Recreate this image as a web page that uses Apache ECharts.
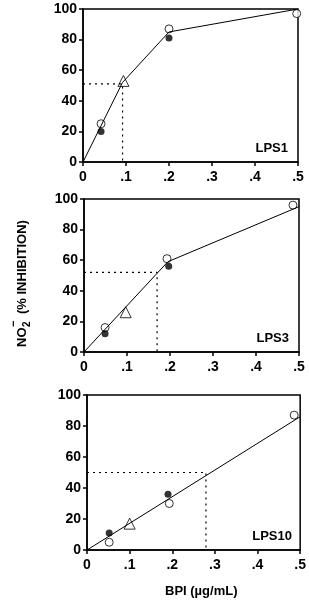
<!DOCTYPE html>
<html><head><meta charset="utf-8">
<script src="https://cdn.jsdelivr.net/npm/echarts@6/dist/echarts.min.js"></script>
<style>html,body{margin:0;padding:0;background:#fff}#c{width:309px;height:602px}</style>
</head><body><div id="c"></div>
<script>
// Panel names
const panels = ['LPS1', 'LPS3', 'LPS10'];
// Fitted lines [x, y]
const fitLPS1 = [[0, 0], [0.092, 52], [0.2, 85], [0.5, 100]];
const fitLPS3 = [[0, 0], [0.195, 59], [0.5, 95]];
const fitLPS10 = [[0, 0], [0.5, 86]];
// Open circles
const openLPS1 = [[0.042, 25], [0.2, 87], [0.497, 97]];
const openLPS3 = [[0.049, 16], [0.193, 61], [0.486, 96]];
const openLPS10 = [[0.052, 5], [0.193, 30], [0.486, 87]];
// Filled circles
const fillLPS1 = [[0.042, 20], [0.2, 81]];
const fillLPS3 = [[0.049, 12], [0.197, 56]];
const fillLPS10 = [[0.052, 11], [0.19, 36]];
// Triangles
const triLPS1 = [[0.094, 53]];
const triLPS3 = [[0.097, 26]];
const triLPS10 = [[0.1, 17]];
// IC50 reference (x, y)
const refLPS1 = [0.092, 51];
const refLPS3 = [0.17, 52];
const refLPS10 = [0.279, 50];
// Axis ticks
const xTicks = [0, 0.1, 0.2, 0.3, 0.4, 0.5];
const yTicks = [0, 20, 40, 60, 80, 100];

const fits = [fitLPS1, fitLPS3, fitLPS10];
const opens = [openLPS1, openLPS3, openLPS10];
const fills = [fillLPS1, fillLPS3, fillLPS10];
const tris = [triLPS1, triLPS3, triLPS10];
const refs = [refLPS1, refLPS3, refLPS10];

const FONT = '"Liberation Sans", Arial, sans-serif';
const grids = [
  {left: 83, top: 9, width: 215, height: 153},
  {left: 84, top: 199, width: 215, height: 153},
  {left: 87, top: 395, width: 215, height: 155}
];

const chart = echarts.init(document.getElementById('c'));
const xAxis = [], yAxis = [], series = [], graphic = [];
grids.forEach((g, i) => {
  g.show = true; g.borderColor = '#000'; g.borderWidth = 1.5; g.backgroundColor = 'transparent';
  xAxis.push({
    type: 'value', gridIndex: i, min: xTicks[0], max: xTicks[xTicks.length - 1],
    interval: xTicks[1] - xTicks[0],
    axisLine: {show: true, onZero: false, lineStyle: {color: '#000', width: 1.5}},
    axisTick: {show: true, length: 4, lineStyle: {color: '#000', width: 1.5}},
    splitLine: {show: false},
    axisLabel: {margin: 8, color: '#000', fontFamily: FONT, fontWeight: 'bold', fontSize: 14,
      formatter: v => v === 0 ? '0' : '.' + Math.round(v * 10)}
  });
  yAxis.push({
    type: 'value', gridIndex: i, min: yTicks[0], max: yTicks[yTicks.length - 1],
    interval: yTicks[1] - yTicks[0],
    axisLine: {show: true, onZero: false, lineStyle: {color: '#000', width: 1.5}},
    axisTick: {show: true, length: 4, lineStyle: {color: '#000', width: 1.5}},
    splitLine: {show: false},
    axisLabel: {margin: 6, color: '#000', fontFamily: FONT, fontWeight: 'bold', fontSize: 14}
  });
  const r = refs[i];
  series.push({
    type: 'line', xAxisIndex: i, yAxisIndex: i, symbol: 'none', silent: true,
    data: [[0, r[1]], [r[0], r[1]], [r[0], 0]],
    lineStyle: {color: '#000', width: 1.2, type: [2, 4]}
  });
  series.push({
    type: 'line', xAxisIndex: i, yAxisIndex: i, symbol: 'none', silent: true,
    data: fits[i], lineStyle: {color: '#000', width: 1}
  });
  series.push({
    type: 'scatter', xAxisIndex: i, yAxisIndex: i, symbol: 'circle', symbolSize: 8,
    data: opens[i], itemStyle: {color: '#fff', borderColor: '#000', borderWidth: 1}
  });
  series.push({
    type: 'scatter', xAxisIndex: i, yAxisIndex: i, symbol: 'circle', symbolSize: 7,
    data: fills[i], itemStyle: {color: '#000', borderColor: '#000', borderWidth: 0}
  });
  series.push({
    type: 'scatter', xAxisIndex: i, yAxisIndex: i, symbol: 'triangle', symbolSize: 11,
    data: tris[i], itemStyle: {color: '#fff', borderColor: '#000', borderWidth: 1}
  });
  graphic.push({
    type: 'text', right: 309 - (g.left + g.width) + 10, top: g.top + g.height - 20,
    style: {text: panels[i], font: 'bold 13px ' + FONT, fill: '#000'}
  });
});

graphic.push({
  type: 'text', left: 165, top: 585,
  style: {text: 'BPI (\u00b5g/mL)', font: 'bold 13px ' + FONT, fill: '#000'}
});
graphic.push({
  type: 'group', x: 22, y: 347, rotation: Math.PI / 2,
  children: [
    {type: 'text', x: 0, y: 0, style: {text: 'NO', font: 'bold 13px ' + FONT, fill: '#000', verticalAlign: 'middle'}},
    {type: 'text', x: 20, y: 5, style: {text: '2', font: 'bold 10px ' + FONT, fill: '#000', verticalAlign: 'middle'}},
    {type: 'text', x: 20, y: -8, style: {text: '\u2212', font: 'bold 11px ' + FONT, fill: '#000', verticalAlign: 'middle'}},
    {type: 'text', x: 33, y: 0, style: {text: '(% INHIBITION)', font: 'bold 13px ' + FONT, fill: '#000', verticalAlign: 'middle'}}
  ]
});

chart.setOption({animation: false, grid: grids, xAxis, yAxis, series, graphic});
</script></body></html>
